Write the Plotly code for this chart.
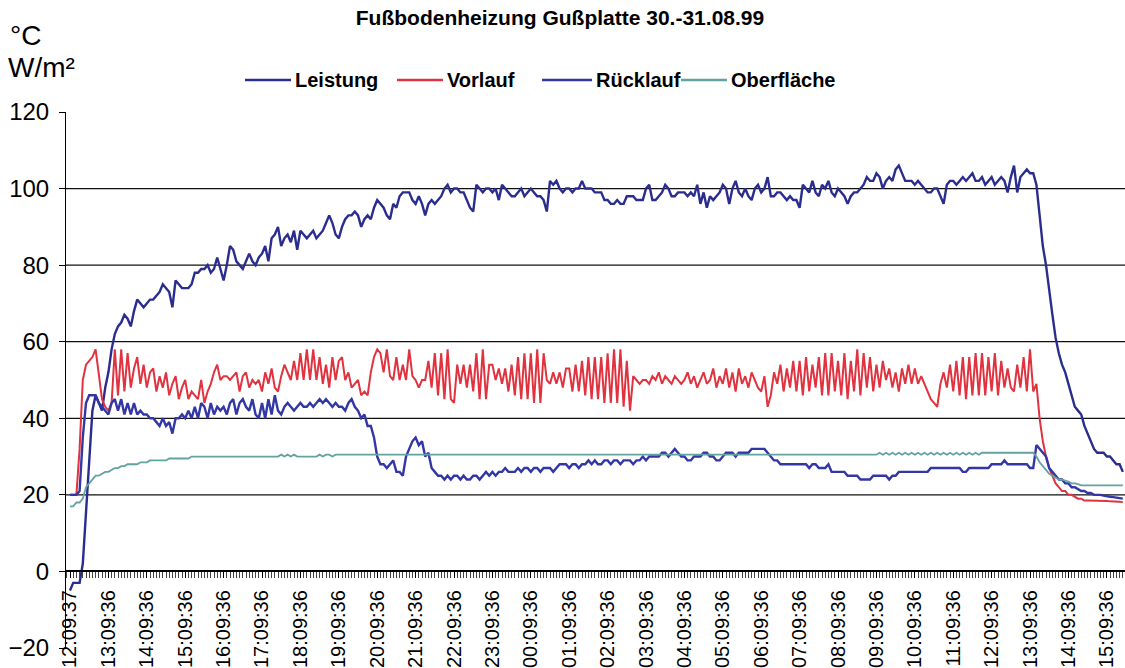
import numpy as np
import plotly.graph_objects as go

# Messreihe im 5-Minuten-Takt, Start 30.08.99 12:09:37
sample_minutes = 5

time_labels = [
    "12:09:37", "13:09:36", "14:09:36", "15:09:36", "16:09:36", "17:09:36",
    "18:09:36", "19:09:36", "20:09:36", "21:09:36", "22:09:36", "23:09:36",
    "00:09:36", "01:09:36", "02:09:36", "03:09:36", "04:09:36", "05:09:36",
    "06:09:36", "07:09:36", "08:09:36", "09:09:36", "10:09:36", "11:09:36",
    "12:09:36", "13:09:36", "14:09:36", "15:09:36",
]

# Leistung in W/m² (je Zeile eine Stunde)
leistung = [
    -5, -3, -3, -3, 2, 15, 30, 42, 46, 44, 42, 48,
    52, 58, 62, 64, 65, 67, 66, 64, 68, 71, 70, 69,
    70, 71, 71, 72, 73, 75, 74, 73, 69, 76, 75, 74,
    74, 74, 75, 78, 78, 79, 79, 80, 78, 79, 82, 79,
    76, 80, 85, 84, 81, 80, 79, 81, 83, 81, 80, 82,
    83, 85, 81, 87, 88, 90, 85, 87, 88, 86, 89, 84,
    89, 88, 87, 88, 89, 87, 88, 89, 91, 93, 91, 88,
    87, 90, 92, 93, 93, 94, 93, 90, 92, 93, 92, 95,
    97, 96, 95, 93, 92, 96, 95, 98, 99, 99, 99, 97,
    96, 98, 96, 93, 96, 97, 96, 97, 98, 100, 101, 99,
    100, 100, 99, 99, 97, 95, 94, 101, 100, 99, 100, 100,
    99, 100, 97, 101, 100, 99, 98, 98, 99, 100, 98, 99,
    100, 99, 98, 98, 97, 94, 102, 101, 102, 100, 99, 100,
    100, 99, 100, 100, 102, 100, 100, 100, 99, 99, 99, 97,
    97, 96, 96, 97, 96, 96, 98, 98, 98, 97, 97, 97,
    100, 101, 97, 97, 98, 99, 101, 100, 98, 98, 99, 99,
    99, 98, 99, 98, 101, 96, 99, 95, 98, 97, 98, 99,
    101, 100, 96, 100, 102, 99, 98, 100, 98, 97, 100, 101,
    99, 100, 103, 98, 98, 99, 99, 98, 97, 98, 97, 97,
    95, 101, 100, 99, 102, 99, 98, 101, 100, 102, 99, 98,
    100, 99, 98, 96, 98, 99, 99, 100, 101, 103, 102, 102,
    104, 103, 100, 102, 103, 102, 105, 106, 104, 102, 102, 102,
    101, 102, 101, 100, 99, 99, 100, 100, 98, 96, 101, 102,
    102, 101, 102, 103, 102, 103, 104, 102, 102, 103, 101, 102,
    103, 101, 102, 103, 102, 99, 103, 106, 99, 103, 104, 105,
    104, 104, 101, 93, 85, 80, 73, 67, 61, 57, 54, 52,
    49, 46, 43, 42, 41, 38, 36, 34, 32, 31, 31, 31,
    30, 30, 29, 28, 28, 26,
]

# Vorlauftemperatur in °C
vorlauf = [
    20, 20, 20, 32, 50, 54, 55, 56, 58, 52, 45, 43,
    42, 44, 58, 46, 58, 47, 57, 48, 53, 56, 49, 54,
    48, 52, 53, 47, 51, 48, 52, 46, 49, 51, 45, 48,
    50, 45, 47, 46, 45, 50, 44, 47, 49, 52, 54, 50,
    51, 51, 50, 51, 52, 47, 51, 52, 48, 50, 49, 50,
    47, 52, 49, 53, 48, 47, 51, 54, 52, 50, 55, 50,
    57, 50, 58, 50, 58, 50, 56, 49, 54, 48, 56, 50,
    55, 56, 50, 52, 48, 49, 50, 46, 47, 46, 52, 56,
    58, 57, 52, 58, 51, 50, 56, 50, 54, 50, 58, 51,
    50, 48, 50, 50, 55, 48, 57, 46, 57, 45, 58, 45,
    44, 54, 49, 54, 48, 54, 47, 57, 45, 58, 45, 54,
    54, 50, 53, 49, 53, 47, 54, 46, 56, 45, 57, 45,
    57, 44, 58, 44, 57, 50, 49, 52, 49, 52, 48, 53,
    53, 47, 54, 47, 55, 46, 56, 45, 56, 45, 56, 44,
    57, 44, 58, 44, 58, 43, 55, 42, 51, 50, 49, 50,
    50, 49, 51, 50, 52, 49, 51, 50, 49, 51, 50, 49,
    50, 52, 49, 51, 48, 50, 52, 49, 50, 53, 48, 51,
    49, 53, 48, 52, 47, 53, 49, 51, 48, 52, 50, 48,
    47, 51, 43, 46, 52, 49, 54, 47, 53, 48, 55, 47,
    55, 46, 56, 47, 54, 48, 56, 46, 57, 46, 57, 47,
    55, 46, 57, 45, 55, 47, 58, 46, 57, 48, 56, 47,
    54, 48, 55, 50, 53, 48, 52, 47, 53, 49, 54, 49,
    53, 49, 51, 49, 47, 45, 44, 43, 49, 52, 48, 54,
    47, 55, 46, 56, 45, 56, 46, 57, 46, 57, 46, 56,
    47, 57, 46, 55, 48, 53, 48, 47, 54, 48, 56, 47,
    58, 47, 49, 40, 34, 30, 27, 25, 23, 22, 21, 21,
    20, 20, 19.5, 19, 19, 18.5, 18.5, 18.5, 18.5, 18.5, 18.5, 18.4,
    18.4, 18.3, 18.3, 18.2, 18.2, 18.1,
]

# Rücklauftemperatur in °C
ruecklauf = [
    20, 20, 20, 21, 35, 44, 46, 46, 46, 44, 43, 42,
    41, 44, 45, 42, 45, 41, 44, 41, 44, 41, 42, 41,
    41, 40, 40, 39, 38, 40, 38, 39, 36, 40, 40, 41,
    40, 42, 40, 43, 40, 44, 43, 40, 44, 41, 43, 42,
    43, 41, 44, 45, 41, 44, 45, 43, 42, 45, 41, 40,
    44, 40, 45, 41, 46, 42, 41, 43, 44, 43, 42, 43,
    44, 43, 43, 44, 43, 44, 45, 44, 45, 44, 43, 44,
    43, 43, 42, 44, 45, 43, 42, 40, 41, 38, 38, 35,
    30, 28, 28, 27, 28, 29, 26, 26, 25, 30, 32, 34,
    35, 33, 34, 30, 31, 27, 26, 25, 25, 24, 25, 24,
    25, 25, 24, 25, 24, 24, 25, 25, 24, 25, 26, 25,
    26, 25, 26, 26, 27, 26, 26, 26, 27, 26, 27, 27,
    26, 27, 27, 26, 27, 27, 27, 26, 27, 28, 28, 28,
    27, 28, 28, 27, 28, 28, 29, 28, 29, 28, 28, 29,
    29, 28, 29, 29, 28, 29, 29, 29, 28, 29, 29, 30,
    29, 30, 30, 30, 30, 31, 31, 30, 31, 32, 31, 30,
    30, 29, 29, 30, 30, 30, 31, 31, 30, 30, 29, 29,
    30, 31, 31, 31, 30, 31, 31, 31, 31, 32, 32, 32,
    32, 32, 31, 30, 29, 29, 28, 28, 28, 28, 28, 28,
    28, 28, 28, 27, 28, 28, 27, 27, 27, 28, 26, 26,
    26, 26, 26, 25, 25, 25, 25, 24, 24, 24, 24, 25,
    25, 25, 25, 25, 24, 25, 25, 26, 26, 26, 26, 26,
    26, 26, 26, 26, 26, 27, 27, 27, 27, 27, 27, 27,
    27, 27, 27, 26, 26, 27, 27, 27, 27, 27, 27, 27,
    28, 28, 28, 28, 29, 28, 28, 28, 28, 28, 28, 28,
    27, 27, 33, 32, 31, 30, 27, 26, 25, 24, 24, 23,
    23, 22, 22, 21.5, 21, 21, 20.5, 20.5, 20, 20, 20, 19.8,
    19.6, 19.5, 19.4, 19.3, 19.2, 19,
]

# Oberflächentemperatur in °C
oberflaeche = [
    17, 17, 18, 18, 19, 22, 23, 24, 25, 25, 25.5, 26,
    26, 26.5, 27, 27, 27.5, 27.5, 28, 28, 28, 28, 28.5, 28.5,
    28.5, 29, 29, 29, 29, 29, 29, 29.5, 29.5, 29.5, 29.5, 29.5,
    29.5, 29.5, 30, 30, 30, 30, 30, 30, 30, 30, 30, 30,
    30, 30, 30, 30, 30, 30, 30, 30, 30, 30, 30, 30,
    30, 30, 30, 30, 30, 30, 30.5, 30, 30.5, 30, 30.5, 30,
    30, 30, 30, 30, 30, 30, 30.5, 30, 30.5, 30.5, 30, 30.5,
    30.5, 30.5, 30.5, 30.5, 30.5, 30.5, 30.5, 30.5, 30.5, 30.5, 30.5, 30.5,
    30.5, 30.5, 30.5, 30.5, 30.5, 30.5, 30.5, 30.5, 30.5, 30.5, 30.5, 30.5,
    30.5, 30.5, 30.5, 30.5, 30.5, 30.5, 30.5, 30.5, 30.5, 30.5, 30.5, 30.5,
    30.5, 30.5, 30.5, 30.5, 30.5, 30.5, 30.5, 30.5, 30.5, 30.5, 30.5, 30.5,
    30.5, 30.5, 30.5, 30.5, 30.5, 30.5, 30.5, 30.5, 30.5, 30.5, 30.5, 30.5,
    30.5, 30.5, 30.5, 30.5, 30.5, 30.5, 30.5, 30.5, 30.5, 30.5, 30.5, 30.5,
    30.5, 30.5, 30.5, 30.5, 30.5, 30.5, 30.5, 30.5, 30.5, 30.5, 30.5, 30.5,
    30.5, 30.5, 30.5, 30.5, 30.5, 30.5, 30.5, 30.5, 30.5, 30.5, 30.5, 30.5,
    30.5, 30.5, 30.5, 30.5, 30.5, 30.5, 30.5, 30.5, 30.5, 30.5, 30.5, 30.5,
    30.5, 30.5, 30.5, 30.5, 30.5, 30.5, 30.5, 30.5, 30.5, 30.5, 30.5, 30.5,
    30.5, 30.5, 30.5, 30.5, 30.5, 30.5, 30.5, 30.5, 30.5, 30.5, 30.5, 30.5,
    30.5, 30.5, 30.5, 30.5, 30.5, 30.5, 30.5, 30.5, 30.5, 30.5, 30.5, 30.5,
    30.5, 30.5, 30.5, 30.5, 30.5, 30.5, 30.5, 30.5, 30.5, 30.5, 30.5, 30.5,
    30.5, 30.5, 30.5, 30.5, 30.5, 30.5, 30.5, 30.5, 30.5, 30.5, 30.5, 30.5,
    30.5, 31, 30.5, 31, 30.5, 31, 30.5, 31, 30.5, 31, 30.5, 31,
    30.5, 31, 30.5, 31, 30.5, 31, 30.5, 31, 30.5, 31, 30.5, 31,
    30.5, 31, 30.5, 31, 30.5, 31, 30.5, 31, 30.5, 31, 31, 31,
    31, 31, 31, 31, 31, 31, 31, 31, 31, 31, 31, 31,
    31, 31, 30, 28.5, 27.5, 26.5, 25.5, 25, 24.5, 24, 24, 23.8,
    23.5, 23, 23, 22.8, 22.5, 22.5, 22.5, 22.5, 22.5, 22.5, 22.5, 22.5,
    22.5, 22.5, 22.5, 22.5, 22.5, 22.5,
]

y_ticks = [-20, 0, 20, 40, 60, 80, 100, 120]
grid_values = [20, 40, 60, 80, 100]

minutes = np.arange(len(leistung)) * sample_minutes
label_minutes = np.arange(len(time_labels)) * 60

FONT = "Liberation Sans, Arial, sans-serif"
W, H = 1125, 668
M_L, M_R, M_T, M_B = 66, 0, 112, 20
PLOT_W = W - M_L - M_R
PLOT_H = H - M_T - M_B


def px_x(px):
    """Pixel column -> paper x."""
    return (px - M_L) / PLOT_W


def px_y(py):
    """Pixel row -> paper y."""
    return 1 - (py - M_T) / PLOT_H


series = [
    ("Leistung", leistung, "#2b2d8e", 2.4),
    ("Vorlauf", vorlauf, "#e1333f", 2.0),
    ("Rücklauf", ruecklauf, "#3337a6", 2.4),
    ("Oberfläche", oberflaeche, "#62a3a1", 1.8),
]

fig = go.Figure()
for name, values, color, width in series:
    fig.add_trace(go.Scatter(
        x=minutes, y=values, name=name, mode="lines",
        line=dict(color=color, width=width), showlegend=False,
    ))

shapes = []
for v in grid_values:
    shapes.append(dict(type="line", xref="paper", x0=0, x1=1, yref="y", y0=v, y1=v,
                       line=dict(color="#111111", width=1.2), layer="below"))

# Legende: Linienmuster und Beschriftung nebeneinander
legend_layout = [(245, 291), (397, 443), (542, 592), (681, 727)]
annotations = []
legend_y = px_y(80)
for (name, _, color, width), (x0, x1) in zip(series, legend_layout):
    shapes.append(dict(type="line", xref="paper", yref="paper",
                       x0=px_x(x0), x1=px_x(x1), y0=legend_y, y1=legend_y,
                       line=dict(color=color, width=2.4)))
    annotations.append(dict(text=f"<b>{name}</b>", xref="paper", yref="paper",
                            x=px_x(x1 + 2), y=legend_y, xanchor="left", yanchor="middle",
                            showarrow=False, font=dict(size=20)))

annotations += [
    dict(text="°C", xref="paper", yref="paper", x=px_x(8), y=px_y(36),
         xanchor="left", yanchor="middle", showarrow=False, font=dict(size=28)),
    dict(text="W/m²", xref="paper", yref="paper", x=px_x(6), y=px_y(67),
         xanchor="left", yanchor="middle", showarrow=False, font=dict(size=28)),
]

fig.update_layout(
    width=W, height=H,
    margin=dict(l=M_L, r=M_R, t=M_T, b=M_B),
    paper_bgcolor="white", plot_bgcolor="white",
    font=dict(family=FONT, color="black"),
    showlegend=False,
    title=dict(text="<b>Fußbodenheizung Gußplatte 30.-31.08.99</b>",
               xref="container", x=560 / W, xanchor="center",
               yref="container", y=1 - 18 / H, yanchor="middle",
               font=dict(size=21)),
    xaxis=dict(
        range=[-6.25, 1648.4], anchor="free", position=20 / 140,
        showline=True, linecolor="black", linewidth=1.5,
        tickmode="array", tickvals=label_minutes, ticktext=time_labels,
        tickangle=-90, tickfont=dict(size=20),
        ticks="outside", ticklen=6, tickcolor="black",
        minor=dict(ticks="outside", ticklen=6, tickmode="linear", tick0=0,
                   dtick=sample_minutes, tickcolor="#444444", tickwidth=1),
        ticklabelstandoff=4,
        showgrid=False, zeroline=False,
    ),
    yaxis=dict(
        range=[-20, 120], tickmode="array", tickvals=y_ticks,
        tickfont=dict(size=24), ticks="outside", ticklen=6, tickcolor="black",
        showline=True, linecolor="black", linewidth=1,
        showgrid=False, zeroline=False, ticklabelstandoff=5,
    ),
    shapes=shapes,
    annotations=annotations,
)

fig.write_html("out.html")
